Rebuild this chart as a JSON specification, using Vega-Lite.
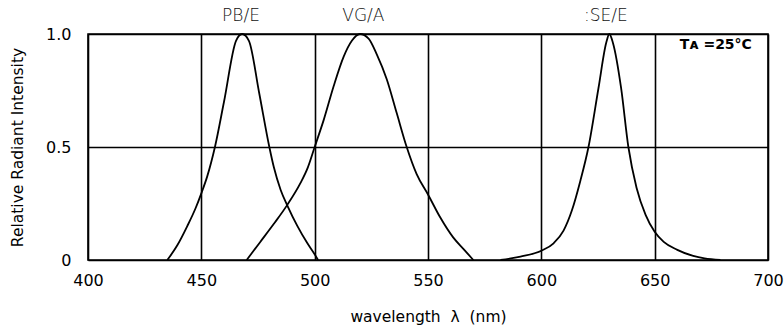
{
  "$schema": "https://vega.github.io/schema/vega-lite/v6.json",
  "width": 680,
  "height": 226,
  "autosize": {"type": "none"},
  "padding": {"left": 88, "top": 34, "right": 16, "bottom": 67},
  "background": "white",
  "config": {
    "view": {"stroke": "black", "strokeWidth": 1.6},
    "font": "DejaVu Sans"
  },
  "datasets": {
    "curves": [
      {"series": "PB/E", "wavelength": 435, "intensity": 0},
      {"series": "PB/E", "wavelength": 439.4, "intensity": 0.065},
      {"series": "PB/E", "wavelength": 443.8, "intensity": 0.15},
      {"series": "PB/E", "wavelength": 447.5, "intensity": 0.23},
      {"series": "PB/E", "wavelength": 450, "intensity": 0.295},
      {"series": "PB/E", "wavelength": 452.6, "intensity": 0.37},
      {"series": "PB/E", "wavelength": 456, "intensity": 0.5},
      {"series": "PB/E", "wavelength": 460, "intensity": 0.7},
      {"series": "PB/E", "wavelength": 465.3, "intensity": 0.97},
      {"series": "PB/E", "wavelength": 468, "intensity": 1.0},
      {"series": "PB/E", "wavelength": 471, "intensity": 0.97},
      {"series": "PB/E", "wavelength": 475.5, "intensity": 0.74},
      {"series": "PB/E", "wavelength": 480, "intensity": 0.5},
      {"series": "PB/E", "wavelength": 482, "intensity": 0.41},
      {"series": "PB/E", "wavelength": 485, "intensity": 0.31},
      {"series": "PB/E", "wavelength": 488, "intensity": 0.24},
      {"series": "PB/E", "wavelength": 492.4, "intensity": 0.15},
      {"series": "PB/E", "wavelength": 496.8, "intensity": 0.074},
      {"series": "PB/E", "wavelength": 499.7, "intensity": 0.03},
      {"series": "PB/E", "wavelength": 501.5, "intensity": 0},
      {"series": "VG/A", "wavelength": 470, "intensity": 0},
      {"series": "VG/A", "wavelength": 476, "intensity": 0.08},
      {"series": "VG/A", "wavelength": 482, "intensity": 0.16},
      {"series": "VG/A", "wavelength": 488, "intensity": 0.245},
      {"series": "VG/A", "wavelength": 493.7, "intensity": 0.34},
      {"series": "VG/A", "wavelength": 497, "intensity": 0.41},
      {"series": "VG/A", "wavelength": 500, "intensity": 0.5},
      {"series": "VG/A", "wavelength": 504, "intensity": 0.62},
      {"series": "VG/A", "wavelength": 508.4, "intensity": 0.77},
      {"series": "VG/A", "wavelength": 512.8, "intensity": 0.9},
      {"series": "VG/A", "wavelength": 516.4, "intensity": 0.97},
      {"series": "VG/A", "wavelength": 520, "intensity": 1.0},
      {"series": "VG/A", "wavelength": 523.8, "intensity": 0.98},
      {"series": "VG/A", "wavelength": 527.4, "intensity": 0.91},
      {"series": "VG/A", "wavelength": 531.8, "intensity": 0.8},
      {"series": "VG/A", "wavelength": 536.2, "intensity": 0.65},
      {"series": "VG/A", "wavelength": 540.6, "intensity": 0.5},
      {"series": "VG/A", "wavelength": 545, "intensity": 0.38},
      {"series": "VG/A", "wavelength": 550, "intensity": 0.29},
      {"series": "VG/A", "wavelength": 555.3, "intensity": 0.19},
      {"series": "VG/A", "wavelength": 561.1, "intensity": 0.1},
      {"series": "VG/A", "wavelength": 566, "intensity": 0.045},
      {"series": "VG/A", "wavelength": 570, "intensity": 0},
      {"series": "SE/E", "wavelength": 582, "intensity": 0},
      {"series": "SE/E", "wavelength": 590.8, "intensity": 0.015},
      {"series": "SE/E", "wavelength": 600, "intensity": 0.041},
      {"series": "SE/E", "wavelength": 605.4, "intensity": 0.074},
      {"series": "SE/E", "wavelength": 609.8, "intensity": 0.13},
      {"series": "SE/E", "wavelength": 613.5, "intensity": 0.22},
      {"series": "SE/E", "wavelength": 617.2, "intensity": 0.35},
      {"series": "SE/E", "wavelength": 620.8, "intensity": 0.5},
      {"series": "SE/E", "wavelength": 625.2, "intensity": 0.76},
      {"series": "SE/E", "wavelength": 628.6, "intensity": 0.96},
      {"series": "SE/E", "wavelength": 630, "intensity": 1.0},
      {"series": "SE/E", "wavelength": 631.6, "intensity": 0.96},
      {"series": "SE/E", "wavelength": 635.2, "intensity": 0.76},
      {"series": "SE/E", "wavelength": 638.4, "intensity": 0.5},
      {"series": "SE/E", "wavelength": 642, "intensity": 0.32},
      {"series": "SE/E", "wavelength": 646, "intensity": 0.2},
      {"series": "SE/E", "wavelength": 650, "intensity": 0.125},
      {"series": "SE/E", "wavelength": 654, "intensity": 0.08},
      {"series": "SE/E", "wavelength": 660, "intensity": 0.045},
      {"series": "SE/E", "wavelength": 667, "intensity": 0.018},
      {"series": "SE/E", "wavelength": 672, "intensity": 0.007},
      {"series": "SE/E", "wavelength": 679, "intensity": 0}
    ],
    "labels": [
      {"label": "PB/E", "peak": 467.5},
      {"label": "VG/A", "peak": 521.5},
      {"label": ":SE/E", "peak": 628.5}
    ]
  },
  "layer": [
    {
      "data": {"name": "curves"},
      "mark": {"type": "line", "color": "black", "strokeWidth": 1.8, "interpolate": "monotone"},
      "encoding": {
        "x": {
          "field": "wavelength", "type": "quantitative",
          "scale": {"domain": [400, 700], "nice": false},
          "axis": {
            "values": [400, 450, 500, 550, 600, 650, 700],
            "title": "wavelength\u00a0\u00a0λ\u00a0\u00a0(nm)",
            "grid": true, "gridColor": "black", "gridWidth": 1.6, "gridOpacity": 1,
            "domain": false, "ticks": false,
            "labelFont": "DejaVu Sans", "labelFontSize": 16, "labelColor": "black", "labelPadding": 12,
            "labelFlush": false,
            "titleFont": "DejaVu Sans", "titleFontSize": 15.5, "titleFontWeight": "normal", "titleColor": "black",
            "titleY": 49, "titleBaseline": "top"
          }
        },
        "y": {
          "field": "intensity", "type": "quantitative",
          "scale": {"domain": [0, 1], "nice": false},
          "axis": {
            "values": [0, 0.5, 1],
            "labelExpr": "datum.value == 0 ? '0' : format(datum.value, '.1f')",
            "title": "Relative Radiant Intensity",
            "grid": true, "gridColor": "black", "gridWidth": 1.6, "gridOpacity": 1,
            "domain": false, "ticks": false,
            "labelFont": "DejaVu Sans", "labelFontSize": 16, "labelColor": "black", "labelPadding": 17,
            "labelFlush": false,
            "titleFont": "DejaVu Sans", "titleFontSize": 15.5, "titleFontWeight": "normal", "titleColor": "black",
            "titleX": -63, "titleY": 113, "titleAngle": -90, "titleAlign": "center", "titleBaseline": "bottom"
          }
        },
        "detail": {"field": "series"}
      }
    },
    {
      "data": {"name": "labels"},
      "mark": {"type": "text", "font": "DejaVu Sans", "fontSize": 17, "fontWeight": 200, "color": "#111", "baseline": "middle", "align": "center", "dy": -18, "clip": false},
      "encoding": {
        "x": {"field": "peak", "type": "quantitative"},
        "y": {"datum": 1},
        "text": {"field": "label"}
      }
    },
    {
      "data": {"values": [{"note": "Tᴀ =25°C", "wavelength": 677, "intensity": 0.95}]},
      "mark": {"type": "text", "font": "DejaVu Sans", "fontSize": 14, "fontWeight": "bold", "color": "black", "baseline": "middle", "align": "center"},
      "encoding": {
        "x": {"field": "wavelength", "type": "quantitative"},
        "y": {"field": "intensity", "type": "quantitative"},
        "text": {"field": "note"}
      }
    }
  ]
}
